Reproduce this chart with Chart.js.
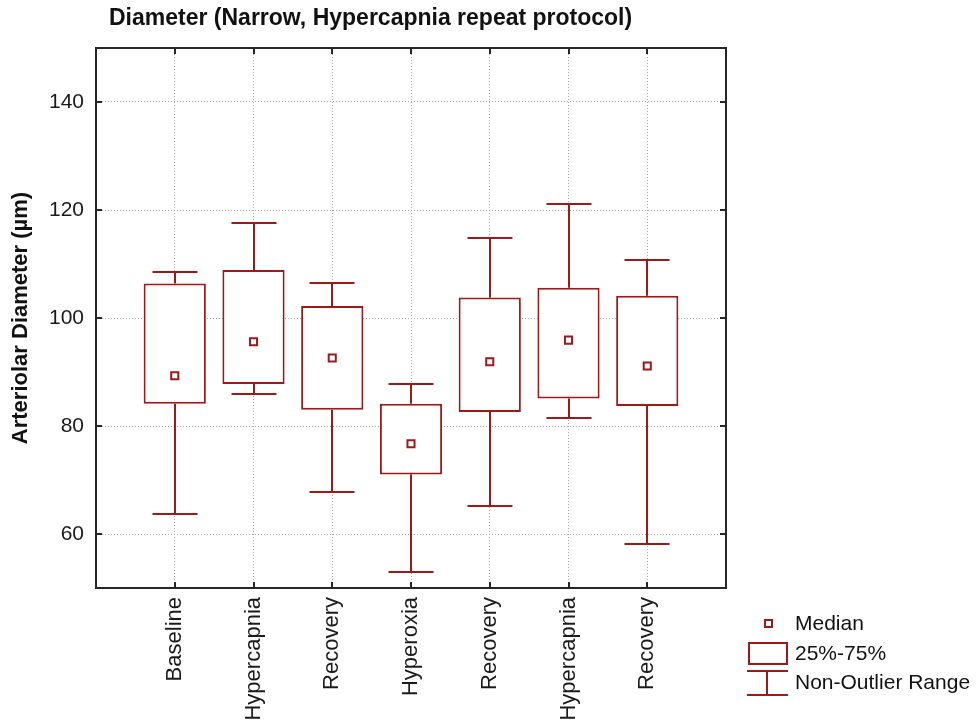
<!DOCTYPE html>
<html><head><meta charset="utf-8">
<script src="https://cdn.jsdelivr.net/npm/chart.js@4"></script>
<style>html,body{margin:0;padding:0;background:#fff}#wrap{width:976px;height:727px}</style>
</head><body><div id="wrap"><canvas id="c" width="976" height="727"></canvas></div>
<script>
const chartTitle = 'Diameter (Narrow, Hypercapnia repeat protocol)';
const yTitle = 'Arteriolar Diameter (µm)';
const categories = ['Baseline','Hypercapnia','Recovery','Hyperoxia','Recovery','Hypercapnia','Recovery'];
const medians = [89.3, 95.6, 92.6, 76.7, 91.9, 95.9, 91.1];
const q1 = [84.1, 87.8, 83.0, 71.0, 82.6, 85.1, 83.7];
const q3 = [106.4, 108.9, 102.2, 84.1, 103.8, 105.6, 104.1];
const whiskerLow = [63.7, 85.9, 67.8, 52.9, 65.2, 81.5, 58.1];
const whiskerHigh = [108.5, 117.5, 106.4, 87.8, 114.8, 121.2, 110.7];
const yTicks = [60, 80, 100, 120, 140];
const legendLabels = ['Median', '25%-75%', 'Non-Outlier Range'];

const RED = '#9c1a1a';
const FRAME = '#262626';
const FONT = '"Liberation Sans", Arial, sans-serif';
Chart.defaults.font.family = FONT;

const labels = ['', ...categories, ''];
const boxData = [null, ...q1.map((v, i) => [v, q3[i]]), null];
const medData = [null, ...medians, null];

const boxPlugin = {
  id: 'boxExtras',
  afterDatasetsDraw(chart) {
    const ctx = chart.ctx, x = chart.scales.x, y = chart.scales.y;
    ctx.save();
    ctx.strokeStyle = RED; ctx.lineWidth = 2;
    const cap = 22.5;
    categories.forEach((c, i) => {
      const px = Math.round(x.getPixelForValue(i + 1));
      const yh = Math.round(y.getPixelForValue(whiskerHigh[i])), y3 = y.getPixelForValue(q3[i]);
      const yl = Math.round(y.getPixelForValue(whiskerLow[i])), y1 = y.getPixelForValue(q1[i]);
      ctx.beginPath();
      ctx.moveTo(px, y3); ctx.lineTo(px, yh);
      ctx.moveTo(px - cap, yh); ctx.lineTo(px + cap, yh);
      ctx.moveTo(px, y1); ctx.lineTo(px, yl);
      ctx.moveTo(px - cap, yl); ctx.lineTo(px + cap, yl);
      ctx.stroke();
    });
    ctx.restore();
  },
  afterDraw(chart) {
    const ctx = chart.ctx, x = chart.scales.x, y = chart.scales.y, a = chart.chartArea;
    ctx.save();
    ctx.strokeStyle = FRAME; ctx.lineWidth = 2;
    ctx.strokeRect(a.left, a.top, a.right - a.left, a.bottom - a.top);
    ctx.beginPath();
    yTicks.forEach(t => {
      const py = Math.round(y.getPixelForValue(t));
      ctx.moveTo(a.left, py); ctx.lineTo(a.left + 6, py);
      ctx.moveTo(a.right, py); ctx.lineTo(a.right - 6, py);
    });
    categories.forEach((c, i) => {
      const px = Math.round(x.getPixelForValue(i + 1));
      ctx.moveTo(px, a.bottom); ctx.lineTo(px, a.bottom - 6);
      ctx.moveTo(px, a.top); ctx.lineTo(px, a.top + 6);
    });
    ctx.stroke();
    ctx.fillStyle = '#111';
    ctx.font = 'bold 23px ' + FONT;
    ctx.textBaseline = 'middle'; ctx.textAlign = 'left';
    ctx.fillText(chartTitle, a.left + 13, 19);
    ctx.font = '21px ' + FONT;
    ctx.fillStyle = '#111';
    ctx.fillText(legendLabels[0], 795, 624);
    ctx.fillText(legendLabels[1], 795, 654);
    ctx.fillText(legendLabels[2], 795, 683);
    ctx.strokeStyle = RED; ctx.lineWidth = 2;
    ctx.fillStyle = '#fff';
    ctx.fillRect(765, 620, 7, 7);
    ctx.strokeRect(765, 620, 7, 7);
    ctx.strokeRect(749, 643, 38, 21);
    ctx.beginPath();
    ctx.moveTo(747, 671); ctx.lineTo(788, 671);
    ctx.moveTo(767, 671); ctx.lineTo(767, 695);
    ctx.moveTo(747, 695); ctx.lineTo(788, 695);
    ctx.stroke();
    ctx.restore();
  }
};

new Chart(document.getElementById('c'), {
  data: {
    labels: labels,
    datasets: [
      {
        type: 'bar', data: boxData, backgroundColor: '#fff', borderColor: RED,
        borderWidth: 2, borderSkipped: false, barPercentage: 0.79, categoryPercentage: 1, order: 2
      },
      {
        type: 'line', data: medData, showLine: false, pointStyle: 'rect', pointRadius: 5,
        pointBackgroundColor: '#fff', pointBorderColor: RED, pointBorderWidth: 2, order: 1
      }
    ]
  },
  options: {
    responsive: false, animation: false, devicePixelRatio: 1,
    layout: { padding: { top: 48, right: 250, left: 0, bottom: 0 } },
    plugins: { legend: { display: false }, tooltip: { enabled: false }, title: { display: false } },
    scales: {
      x: {
        type: 'category', offset: false,
        grid: { offset: false, color: '#a8a8a8', lineWidth: 1, drawTicks: false },
        border: { display: false, dash: [1, 2] },
        ticks: { autoSkip: false, minRotation: 90, maxRotation: 90, padding: 9, color: '#1a1a1a', font: { size: 22 } },
        afterFit(s) { s.height = 139; }
      },
      y: {
        min: 50, max: 150,
        grid: { color: '#a8a8a8', lineWidth: 1, drawTicks: false },
        border: { display: false, dash: [1, 2] },
        afterBuildTicks(s) { s.ticks = yTicks.map(v => ({ value: v })); },
        ticks: { padding: 12, color: '#1a1a1a', font: { size: 21 } },
        title: { display: true, text: yTitle, color: '#111', font: { size: 22, weight: 'bold' }, padding: { top: 8, bottom: 0 } },
        afterFit(s) { s.width = 96; }
      }
    }
  },
  plugins: [boxPlugin]
});
</script>
</body></html>
